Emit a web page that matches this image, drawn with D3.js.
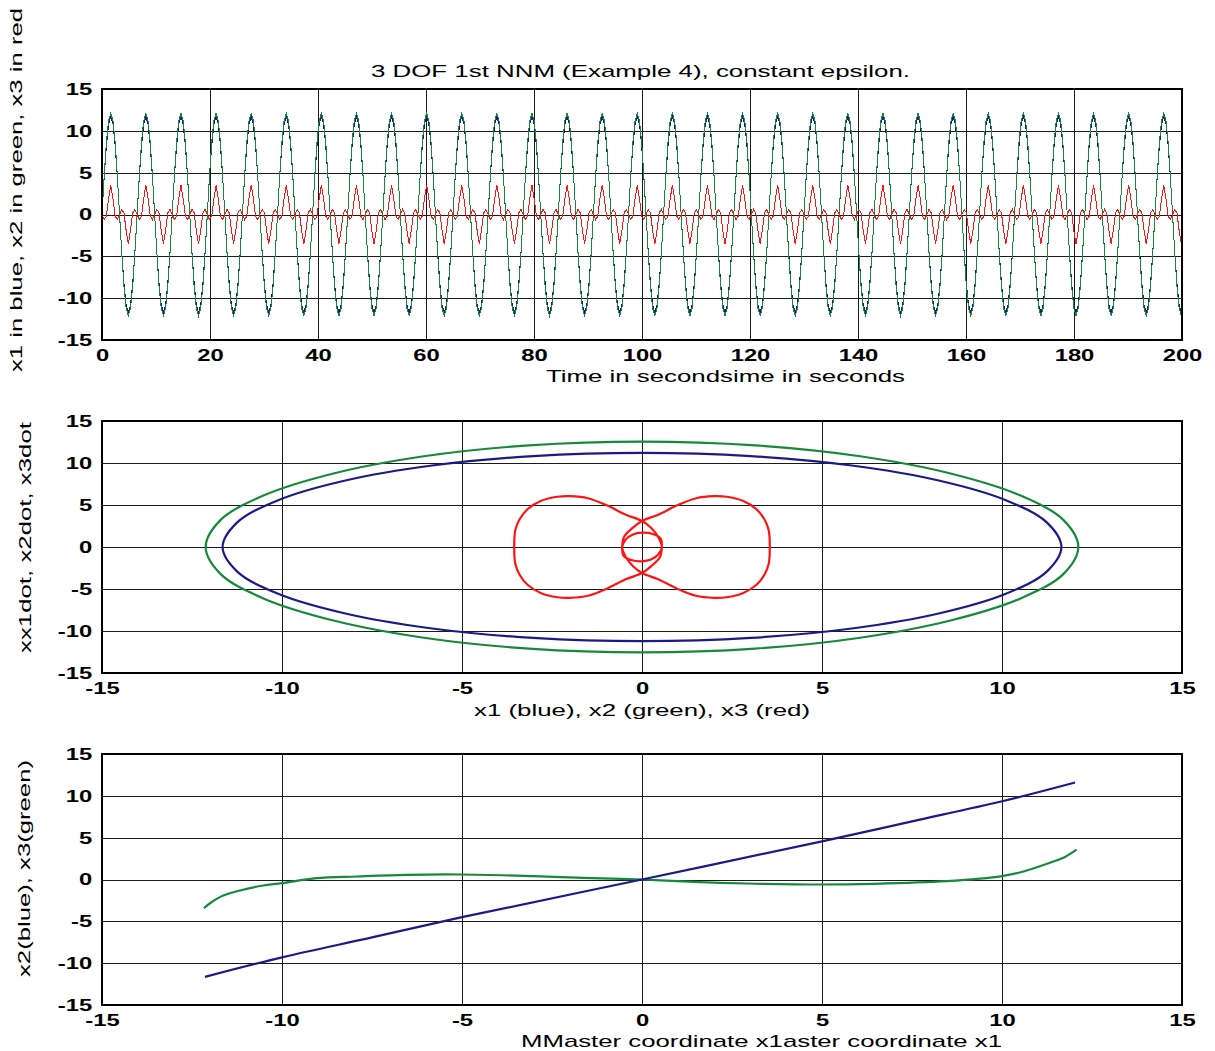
<!DOCTYPE html>
<html><head><meta charset="utf-8">
<script src="https://cdn.jsdelivr.net/npm/d3@7"></script>
<style>body{margin:0;background:#fff}svg{display:block}</style>
</head><body>
<svg id="c" width="1215" height="1051"></svg>
<script>
// ---------- data ----------
const sampleStep = 0.40625; // seconds between samples of the time histories
const x1Series = [
0,4.5,8.2,10.8,11.7,10.8,8.2,4.5,0,-4.5,-8.2,-10.8,-11.7,-10.8,-8.2,-4.5,
0,4.5,8.2,10.8,11.7,10.8,8.2,4.5,0,-4.5,-8.2,-10.8,-11.7,-10.8,-8.2,-4.5,
0,4.5,8.2,10.8,11.7,10.8,8.2,4.5,0,-4.5,-8.2,-10.8,-11.7,-10.8,-8.2,-4.5,
0,4.5,8.2,10.8,11.7,10.8,8.2,4.5,0,-4.5,-8.2,-10.8,-11.7,-10.8,-8.2,-4.5,
0,4.5,8.2,10.8,11.7,10.8,8.2,4.5,0,-4.5,-8.2,-10.8,-11.7,-10.8,-8.2,-4.5,
0,4.5,8.2,10.8,11.7,10.8,8.2,4.5,0,-4.5,-8.2,-10.8,-11.7,-10.8,-8.2,-4.5,
0,4.5,8.2,10.8,11.7,10.8,8.2,4.5,0,-4.5,-8.2,-10.8,-11.7,-10.8,-8.2,-4.5,
0,4.5,8.2,10.8,11.7,10.8,8.2,4.5,0,-4.5,-8.2,-10.8,-11.7,-10.8,-8.2,-4.5,
0,4.5,8.2,10.8,11.7,10.8,8.2,4.5,0,-4.5,-8.2,-10.8,-11.7,-10.8,-8.2,-4.5,
0,4.5,8.2,10.8,11.7,10.8,8.2,4.5,0,-4.5,-8.2,-10.8,-11.7,-10.8,-8.2,-4.5,
0,4.5,8.2,10.8,11.7,10.8,8.2,4.5,0,-4.5,-8.2,-10.8,-11.7,-10.8,-8.2,-4.5,
0,4.5,8.2,10.8,11.7,10.8,8.2,4.5,0,-4.5,-8.2,-10.8,-11.7,-10.8,-8.2,-4.5,
0,4.5,8.2,10.8,11.7,10.8,8.2,4.5,0,-4.5,-8.2,-10.8,-11.7,-10.8,-8.2,-4.5,
0,4.5,8.2,10.8,11.7,10.8,8.2,4.5,0,-4.5,-8.2,-10.8,-11.7,-10.8,-8.2,-4.5,
0,4.5,8.2,10.8,11.7,10.8,8.2,4.5,0,-4.5,-8.2,-10.8,-11.7,-10.8,-8.2,-4.5,
0,4.5,8.2,10.8,11.7,10.8,8.2,4.5,0,-4.5,-8.2,-10.8,-11.7,-10.8,-8.2,-4.5,
0,4.5,8.2,10.8,11.7,10.8,8.2,4.5,0,-4.5,-8.2,-10.8,-11.7,-10.8,-8.2,-4.5,
0,4.5,8.2,10.8,11.7,10.8,8.2,4.5,0,-4.5,-8.2,-10.8,-11.7,-10.8,-8.2,-4.5,
0,4.5,8.2,10.8,11.7,10.8,8.2,4.5,0,-4.5,-8.2,-10.8,-11.7,-10.8,-8.2,-4.5,
0,4.5,8.2,10.8,11.7,10.8,8.2,4.5,0,-4.5,-8.2,-10.8,-11.7,-10.8,-8.2,-4.5,
0,4.5,8.2,10.8,11.7,10.8,8.2,4.5,0,-4.5,-8.2,-10.8,-11.7,-10.8,-8.2,-4.5,
0,4.5,8.2,10.8,11.7,10.8,8.2,4.5,0,-4.5,-8.2,-10.8,-11.7,-10.8,-8.2,-4.5,
0,4.5,8.2,10.8,11.7,10.8,8.2,4.5,0,-4.5,-8.2,-10.8,-11.7,-10.8,-8.2,-4.5,
0,4.5,8.2,10.8,11.7,10.8,8.2,4.5,0,-4.5,-8.2,-10.8,-11.7,-10.8,-8.2,-4.5,
0,4.5,8.2,10.8,11.7,10.8,8.2,4.5,0,-4.5,-8.2,-10.8,-11.7,-10.8,-8.2,-4.5,
0,4.5,8.2,10.8,11.7,10.8,8.2,4.5,0,-4.5,-8.2,-10.8,-11.7,-10.8,-8.2,-4.5,
0,4.5,8.2,10.8,11.7,10.8,8.2,4.5,0,-4.5,-8.2,-10.8,-11.7,-10.8,-8.2,-4.5,
0,4.5,8.2,10.8,11.7,10.8,8.2,4.5,0,-4.5,-8.2,-10.8,-11.7,-10.8,-8.2,-4.5,
0,4.5,8.2,10.8,11.7,10.8,8.2,4.5,0,-4.5,-8.2,-10.8,-11.7,-10.8,-8.2,-4.5,
0,4.5,8.2,10.8,11.7,10.8,8.2,4.5,0,-4.5,-8.2,-10.8,-11.7,-10.8,-8.2,-4.5,
0,4.5,8.2,10.8,11.7,10.8,8.2,4.5,0,-4.5,-8.2,-10.8,-11.7,-10.8
];
const x2Series = [
0,4.6,8.6,11.2,12.1,11.2,8.6,4.6,0,-4.6,-8.6,-11.2,-12.1,-11.2,-8.6,-4.6,
0,4.6,8.6,11.2,12.1,11.2,8.6,4.6,0,-4.6,-8.6,-11.2,-12.1,-11.2,-8.6,-4.6,
0,4.6,8.6,11.2,12.1,11.2,8.6,4.6,0,-4.6,-8.6,-11.2,-12.1,-11.2,-8.6,-4.6,
0,4.6,8.6,11.2,12.1,11.2,8.6,4.6,0,-4.6,-8.6,-11.2,-12.1,-11.2,-8.6,-4.6,
0,4.6,8.6,11.2,12.1,11.2,8.6,4.6,0,-4.6,-8.6,-11.2,-12.1,-11.2,-8.6,-4.6,
0,4.6,8.6,11.2,12.1,11.2,8.6,4.6,0,-4.6,-8.6,-11.2,-12.1,-11.2,-8.6,-4.6,
0,4.6,8.6,11.2,12.1,11.2,8.6,4.6,0,-4.6,-8.6,-11.2,-12.1,-11.2,-8.6,-4.6,
0,4.6,8.6,11.2,12.1,11.2,8.6,4.6,0,-4.6,-8.6,-11.2,-12.1,-11.2,-8.6,-4.6,
0,4.6,8.6,11.2,12.1,11.2,8.6,4.6,0,-4.6,-8.6,-11.2,-12.1,-11.2,-8.6,-4.6,
0,4.6,8.6,11.2,12.1,11.2,8.6,4.6,0,-4.6,-8.6,-11.2,-12.1,-11.2,-8.6,-4.6,
0,4.6,8.6,11.2,12.1,11.2,8.6,4.6,0,-4.6,-8.6,-11.2,-12.1,-11.2,-8.6,-4.6,
0,4.6,8.6,11.2,12.1,11.2,8.6,4.6,0,-4.6,-8.6,-11.2,-12.1,-11.2,-8.6,-4.6,
0,4.6,8.6,11.2,12.1,11.2,8.6,4.6,0,-4.6,-8.6,-11.2,-12.1,-11.2,-8.6,-4.6,
0,4.6,8.6,11.2,12.1,11.2,8.6,4.6,0,-4.6,-8.6,-11.2,-12.1,-11.2,-8.6,-4.6,
0,4.6,8.6,11.2,12.1,11.2,8.6,4.6,0,-4.6,-8.6,-11.2,-12.1,-11.2,-8.6,-4.6,
0,4.6,8.6,11.2,12.1,11.2,8.6,4.6,0,-4.6,-8.6,-11.2,-12.1,-11.2,-8.6,-4.6,
0,4.6,8.6,11.2,12.1,11.2,8.6,4.6,0,-4.6,-8.6,-11.2,-12.1,-11.2,-8.6,-4.6,
0,4.6,8.6,11.2,12.1,11.2,8.6,4.6,0,-4.6,-8.6,-11.2,-12.1,-11.2,-8.6,-4.6,
0,4.6,8.6,11.2,12.1,11.2,8.6,4.6,0,-4.6,-8.6,-11.2,-12.1,-11.2,-8.6,-4.6,
0,4.6,8.6,11.2,12.1,11.2,8.6,4.6,0,-4.6,-8.6,-11.2,-12.1,-11.2,-8.6,-4.6,
0,4.6,8.6,11.2,12.1,11.2,8.6,4.6,0,-4.6,-8.6,-11.2,-12.1,-11.2,-8.6,-4.6,
0,4.6,8.6,11.2,12.1,11.2,8.6,4.6,0,-4.6,-8.6,-11.2,-12.1,-11.2,-8.6,-4.6,
0,4.6,8.6,11.2,12.1,11.2,8.6,4.6,0,-4.6,-8.6,-11.2,-12.1,-11.2,-8.6,-4.6,
0,4.6,8.6,11.2,12.1,11.2,8.6,4.6,0,-4.6,-8.6,-11.2,-12.1,-11.2,-8.6,-4.6,
0,4.6,8.6,11.2,12.1,11.2,8.6,4.6,0,-4.6,-8.6,-11.2,-12.1,-11.2,-8.6,-4.6,
0,4.6,8.6,11.2,12.1,11.2,8.6,4.6,0,-4.6,-8.6,-11.2,-12.1,-11.2,-8.6,-4.6,
0,4.6,8.6,11.2,12.1,11.2,8.6,4.6,0,-4.6,-8.6,-11.2,-12.1,-11.2,-8.6,-4.6,
0,4.6,8.6,11.2,12.1,11.2,8.6,4.6,0,-4.6,-8.6,-11.2,-12.1,-11.2,-8.6,-4.6,
0,4.6,8.6,11.2,12.1,11.2,8.6,4.6,0,-4.6,-8.6,-11.2,-12.1,-11.2,-8.6,-4.6,
0,4.6,8.6,11.2,12.1,11.2,8.6,4.6,0,-4.6,-8.6,-11.2,-12.1,-11.2,-8.6,-4.6,
0,4.6,8.6,11.2,12.1,11.2,8.6,4.6,0,-4.6,-8.6,-11.2,-12.1,-11.2
];
const x3Series = [
0,-0.6,-0.2,1.9,3.5,1.9,-0.2,-0.6,0,0.6,0.2,-1.9,-3.5,-1.9,0.2,0.6,
0,-0.6,-0.2,1.9,3.5,1.9,-0.2,-0.6,0,0.6,0.2,-1.9,-3.5,-1.9,0.2,0.6,
0,-0.6,-0.2,1.9,3.5,1.9,-0.2,-0.6,0,0.6,0.2,-1.9,-3.5,-1.9,0.2,0.6,
0,-0.6,-0.2,1.9,3.5,1.9,-0.2,-0.6,0,0.6,0.2,-1.9,-3.5,-1.9,0.2,0.6,
0,-0.6,-0.2,1.9,3.5,1.9,-0.2,-0.6,0,0.6,0.2,-1.9,-3.5,-1.9,0.2,0.6,
0,-0.6,-0.2,1.9,3.5,1.9,-0.2,-0.6,0,0.6,0.2,-1.9,-3.5,-1.9,0.2,0.6,
0,-0.6,-0.2,1.9,3.5,1.9,-0.2,-0.6,0,0.6,0.2,-1.9,-3.5,-1.9,0.2,0.6,
0,-0.6,-0.2,1.9,3.5,1.9,-0.2,-0.6,0,0.6,0.2,-1.9,-3.5,-1.9,0.2,0.6,
0,-0.6,-0.2,1.9,3.5,1.9,-0.2,-0.6,0,0.6,0.2,-1.9,-3.5,-1.9,0.2,0.6,
0,-0.6,-0.2,1.9,3.5,1.9,-0.2,-0.6,0,0.6,0.2,-1.9,-3.5,-1.9,0.2,0.6,
0,-0.6,-0.2,1.9,3.5,1.9,-0.2,-0.6,0,0.6,0.2,-1.9,-3.5,-1.9,0.2,0.6,
0,-0.6,-0.2,1.9,3.5,1.9,-0.2,-0.6,0,0.6,0.2,-1.9,-3.5,-1.9,0.2,0.6,
0,-0.6,-0.2,1.9,3.5,1.9,-0.2,-0.6,0,0.6,0.2,-1.9,-3.5,-1.9,0.2,0.6,
0,-0.6,-0.2,1.9,3.5,1.9,-0.2,-0.6,0,0.6,0.2,-1.9,-3.5,-1.9,0.2,0.6,
0,-0.6,-0.2,1.9,3.5,1.9,-0.2,-0.6,0,0.6,0.2,-1.9,-3.5,-1.9,0.2,0.6,
0,-0.6,-0.2,1.9,3.5,1.9,-0.2,-0.6,0,0.6,0.2,-1.9,-3.5,-1.9,0.2,0.6,
0,-0.6,-0.2,1.9,3.5,1.9,-0.2,-0.6,0,0.6,0.2,-1.9,-3.5,-1.9,0.2,0.6,
0,-0.6,-0.2,1.9,3.5,1.9,-0.2,-0.6,0,0.6,0.2,-1.9,-3.5,-1.9,0.2,0.6,
0,-0.6,-0.2,1.9,3.5,1.9,-0.2,-0.6,0,0.6,0.2,-1.9,-3.5,-1.9,0.2,0.6,
0,-0.6,-0.2,1.9,3.5,1.9,-0.2,-0.6,0,0.6,0.2,-1.9,-3.5,-1.9,0.2,0.6,
0,-0.6,-0.2,1.9,3.5,1.9,-0.2,-0.6,0,0.6,0.2,-1.9,-3.5,-1.9,0.2,0.6,
0,-0.6,-0.2,1.9,3.5,1.9,-0.2,-0.6,0,0.6,0.2,-1.9,-3.5,-1.9,0.2,0.6,
0,-0.6,-0.2,1.9,3.5,1.9,-0.2,-0.6,0,0.6,0.2,-1.9,-3.5,-1.9,0.2,0.6,
0,-0.6,-0.2,1.9,3.5,1.9,-0.2,-0.6,0,0.6,0.2,-1.9,-3.5,-1.9,0.2,0.6,
0,-0.6,-0.2,1.9,3.5,1.9,-0.2,-0.6,0,0.6,0.2,-1.9,-3.5,-1.9,0.2,0.6,
0,-0.6,-0.2,1.9,3.5,1.9,-0.2,-0.6,0,0.6,0.2,-1.9,-3.5,-1.9,0.2,0.6,
0,-0.6,-0.2,1.9,3.5,1.9,-0.2,-0.6,0,0.6,0.2,-1.9,-3.5,-1.9,0.2,0.6,
0,-0.6,-0.2,1.9,3.5,1.9,-0.2,-0.6,0,0.6,0.2,-1.9,-3.5,-1.9,0.2,0.6,
0,-0.6,-0.2,1.9,3.5,1.9,-0.2,-0.6,0,0.6,0.2,-1.9,-3.5,-1.9,0.2,0.6,
0,-0.6,-0.2,1.9,3.5,1.9,-0.2,-0.6,0,0.6,0.2,-1.9,-3.5,-1.9,0.2,0.6,
0,-0.6,-0.2,1.9,3.5,1.9,-0.2,-0.6,0,0.6,0.2,-1.9,-3.5,-1.9
];

// phase portraits (x, xdot)
const orbitX1 = [[11.65,0],[11.25,2.9],[10.09,5.6],[8.24,7.92],[5.83,9.7],[3.02,10.82],[0,11.2],
 [-3.02,10.82],[-5.83,9.7],[-8.24,7.92],[-10.09,5.6],[-11.25,2.9],[-11.65,0],
 [-11.25,-2.9],[-10.09,-5.6],[-8.24,-7.92],[-5.83,-9.7],[-3.02,-10.82],[0,-11.2],
 [3.02,-10.82],[5.83,-9.7],[8.24,-7.92],[10.09,-5.6],[11.25,-2.9]];
const orbitX2 = [[12.12,0],[11.71,3.2],[10.5,6.15],[8.57,8.75],[6.06,10.8],[3.14,12.1],[0,12.55],
 [-3.14,12.1],[-6.06,10.8],[-8.57,8.75],[-10.5,6.15],[-11.71,3.2],[-12.12,0],
 [-11.71,-3.2],[-10.5,-6.15],[-8.57,-8.75],[-6.06,-10.8],[-3.14,-12.1],[0,-12.55],
 [3.14,-12.1],[6.06,-10.8],[8.57,-8.75],[10.5,-6.15],[11.71,-3.2]];
const orbitX3 = [[-3.55,0],[-3.52,2],[-3.4,3.3],[-3.18,4.5],[-2.8,5.5],[-2.35,5.98],[-2,6.05],[-1.5,5.8],[-0.95,4.9],[-0.45,3.85],[0,3.1],
 [0.25,2.3],[0.45,1.2],[0.55,0],[0.45,-0.9],[0.25,-1.5],[0,-1.7],[-0.3,-1.55],[-0.52,-1],[-0.55,0],[-0.5,1.2],[-0.25,2.3],[0,3.1],
 [0.45,3.85],[0.95,4.9],[1.5,5.8],[2,6.05],[2.35,5.98],[2.8,5.5],[3.18,4.5],[3.4,3.3],[3.52,2],[3.55,0],
 [3.52,-2],[3.4,-3.3],[3.18,-4.5],[2.8,-5.5],[2.35,-5.98],[2,-6.05],[1.5,-5.8],[0.95,-4.9],[0.45,-3.85],[0,-3.1],
 [-0.25,-2.3],[-0.45,-1.2],[-0.55,0],[-0.45,0.9],[-0.25,1.5],[0,1.7],[0.3,1.55],[0.52,1],[0.55,0],[0.5,-1.2],[0.25,-2.3],[0,-3.1],
 [-0.45,-3.85],[-0.95,-4.9],[-1.5,-5.8],[-2,-6.05],[-2.35,-5.98],[-2.8,-5.5],[-3.18,-4.5],[-3.4,-3.3],[-3.52,-2]];

// modal lines vs master coordinate
const modalX2 = [[-12.14,-11.64],[-10,-9.3],[-7.5,-6.92],[-5,-4.5],[0,0],[5,4.55],[7.5,6.95],[10,9.35],[12.03,11.6]];
const modalX3 = [[-12.17,-3.44],[-12,-2.84],[-11.63,-1.92],[-10.98,-1.12],[-10.52,-0.72],[-10,-0.44],[-9.04,0.16],[-7.93,0.36],[-6.54,0.56],[-5,0.6],[-3.02,0.4],[-1.63,0.2],[0,0],
 [1.61,-0.32],[2.91,-0.48],[5,-0.6],[6.43,-0.52],[8.46,-0.2],[10,0.4],[10.6,0.96],[11.33,2.0],[11.75,2.7],[12.07,3.56]];

const timeTicks = [0,20,40,60,80,100,120,140,160,180,200];
const coordTicks = [-15,-10,-5,0,5,10,15];
const valueTicks = [-15,-10,-5,0,5,10,15];

const titleText = "3 DOF 1st NNM (Example 4), constant epsilon.";
const labels = {
  p1x: "Time in secondsime in seconds",
  p1y: "x1 in blue, x2 in green, x3 in red",
  p2x: "x1 (blue), x2 (green), x3 (red)",
  p2y: "xx1dot, x2dot, x3dot",
  p3x: "MMaster coordinate x1aster coordinate x1",
  p3y: "x2(blue), x3(green)"
};

// ---------- drawing ----------
const BLUE = "#1c1a8a", GREEN = "#168a3a", RED = "#ff1414";
const FONT = "'Liberation Sans', Arial, Helvetica, sans-serif";
const svg = d3.select("#c");
const L = 102, R = 1182;

function panel(id, top, bottom, xDomain, xTicks) {
  const x = d3.scaleLinear().domain(xDomain).range([L, R]);
  const y = d3.scaleLinear().domain([-15, 15]).range([bottom, top]);
  const g = svg.append("g");
  g.append("g").attr("transform", `translate(0,${bottom})`)
    .call(d3.axisBottom(x).tickValues(xTicks).tickSize(-(bottom - top)).tickFormat(""))
    .call(a => a.select(".domain").remove())
    .selectAll("line").attr("stroke", "#1a1a1a").attr("shape-rendering", "crispEdges");
  g.append("g").attr("transform", `translate(${L},0)`)
    .call(d3.axisLeft(y).tickValues(valueTicks).tickSize(-(R - L)).tickFormat(""))
    .call(a => a.select(".domain").remove())
    .selectAll("line").attr("stroke", "#1a1a1a").attr("shape-rendering", "crispEdges");
  const xa = g.append("g").attr("transform", `translate(0,${bottom})`)
    .call(d3.axisBottom(x).tickValues(xTicks).tickSize(0).tickPadding(9).tickFormat(d => String(d)));
  const ya = g.append("g").attr("transform", `translate(${L},0)`)
    .call(d3.axisLeft(y).tickValues(valueTicks).tickSize(0).tickPadding(7).tickFormat(d => String(d)));
  [xa, ya].forEach(a => {
    a.select(".domain").remove();
    a.attr("font-family", FONT).attr("font-size", 17).attr("font-weight", "bold");
    a.selectAll("text").attr("fill", "#000").attr("transform", "scale(1.4,1)");
  });
  svg.append("clipPath").attr("id", id).append("rect")
    .attr("x", L).attr("y", top).attr("width", R - L).attr("height", bottom - top);
  const plot = g.append("g").attr("clip-path", `url(#${id})`);
  return { x, y, g, plot, top, bottom };
}

function frame(p) {
  p.g.append("rect").attr("x", L).attr("y", p.top).attr("width", R - L).attr("height", p.bottom - p.top)
    .attr("fill", "none").attr("stroke", "#000").attr("stroke-width", 2).attr("shape-rendering", "crispEdges");
}

function label(text, x, y, len, rotate) {
  const t = svg.append("text").text(text)
    .attr("font-family", FONT).attr("font-size", 17).attr("fill", "#000")
    .attr("textLength", len).attr("lengthAdjust", "spacingAndGlyphs");
  if (rotate) t.attr("transform", `translate(${x},${y}) rotate(-90)`);
  else t.attr("x", x).attr("y", y);
}

// Panel 1: time histories
const p1 = panel("clip1", 89, 340, [0, 200], timeTicks);
const tLine = d3.line().x((d, i) => p1.x(i * sampleStep)).y(d => p1.y(d));
[[x1Series, BLUE], [x2Series, GREEN], [x3Series, RED]].forEach(([s, c]) => {
  p1.plot.append("path").attr("d", tLine(s)).attr("fill", "none").attr("stroke", c)
    .attr("stroke-width", 1).attr("shape-rendering", "crispEdges");
});
frame(p1);

// Panel 2: phase portraits
const p2 = panel("clip2", 421, 673, [-15, 15], coordTicks);
const orbit = d3.line().x(d => p2.x(d[0])).y(d => p2.y(d[1])).curve(d3.curveCatmullRomClosed.alpha(0.5));
[[orbitX2, GREEN], [orbitX1, BLUE], [orbitX3, RED]].forEach(([s, c]) => {
  p2.plot.append("path").attr("d", orbit(s)).attr("fill", "none").attr("stroke", c)
    .attr("stroke-width", 2.2);
});
frame(p2);

// Panel 3: modal lines
const p3 = panel("clip3", 754, 1005, [-15, 15], coordTicks);
const mline = d3.line().x(d => p3.x(d[0])).y(d => p3.y(d[1])).curve(d3.curveCatmullRom.alpha(0.5));
[[modalX3, GREEN], [modalX2, BLUE]].forEach(([s, c]) => {
  p3.plot.append("path").attr("d", mline(s)).attr("fill", "none").attr("stroke", c)
    .attr("stroke-width", 2.2);
});
frame(p3);

// texts
label(titleText, 371, 77, 539, false);
label(labels.p1x, 546, 382, 359, false);
label(labels.p2x, 474, 716, 336, false);
label(labels.p3x, 521, 1047, 481, false);
label(labels.p1y, 22, 372, 364, true);
label(labels.p2y, 31, 653, 231, true);
label(labels.p3y, 30, 977, 217, true);
</script>
</body></html>
